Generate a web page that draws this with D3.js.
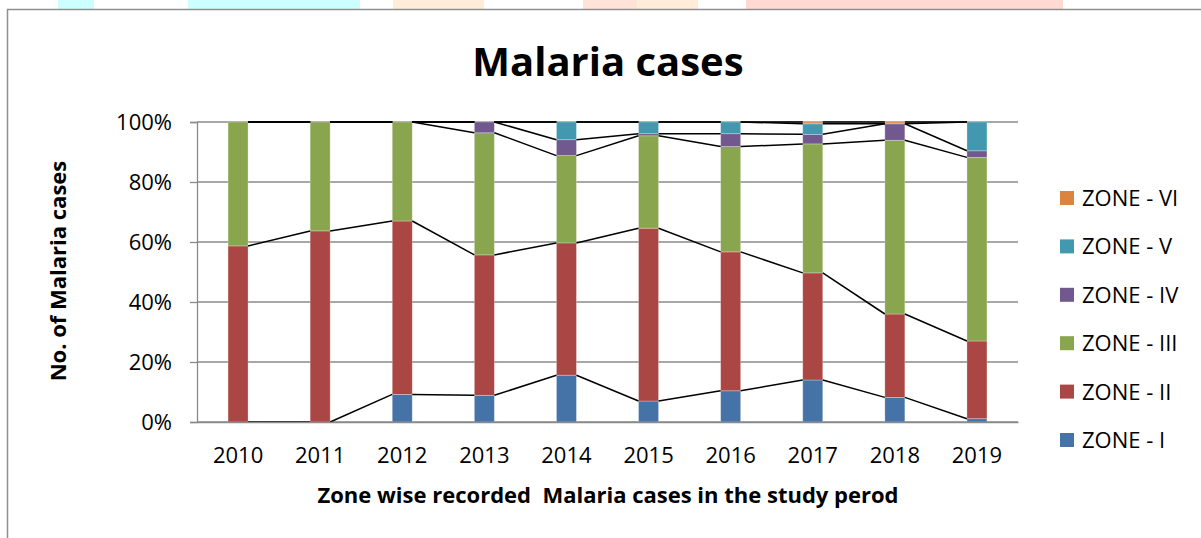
<!DOCTYPE html>
<html>
<head>
<meta charset="utf-8">
<script src="https://cdn.jsdelivr.net/npm/d3@7"></script>
<style>
  body { margin: 0; background: #fff; }
  text { font-family: "Open Sans", "Noto Sans", sans-serif; fill: #000; }
</style>
</head>
<body>
<script>
// 100% stacked columns, zone wise malaria cases

var years = ['2010','2011','2012','2013','2014','2015','2016','2017','2018','2019'];
var zones = ['ZONE - I','ZONE - II','ZONE - III','ZONE - IV','ZONE - V','ZONE - VI'];
var zoneI   = [0, 0, 9.2, 8.9, 15.6, 7.0, 10.4, 14.0, 8.2, 1.1];
var zoneII  = [58.7, 63.7, 57.8, 46.8, 44.1, 57.6, 46.3, 35.7, 27.8, 25.9];
var zoneIII = [41.3, 36.3, 33.0, 40.7, 29.1, 30.8, 35.1, 43.0, 57.9, 61.2];
var zoneIV  = [0, 0, 0, 3.6, 5.3, 0.7, 4.3, 3.2, 5.5, 2.2];
var zoneV   = [0, 0, 0, 0, 5.9, 3.9, 3.9, 3.5, 0, 9.6];
var zoneVI  = [0, 0, 0, 0, 0, 0, 0, 0.6, 0.6, 0];
var yTicks = [0, 0.2, 0.4, 0.6, 0.8, 1];
var colors = ['#4572A7','#AA4643','#89A54E','#71588F','#4198AF','#DB843D'];

var width = 1201, height = 538;
var plot = {left: 197, right: 1018, top: 122, bottom: 422};
var barWidth = 20;

var svg = d3.select('body').append('svg')
  .attr('width', width)
  .attr('height', height);

// faint strips of the page behind the chart
var strips = [[58,94,'#ccffff'],[188,360,'#ccffff'],[393,484,'#ffecd9'],[583,637,'#ffe3d8'],[637,698,'#ffecd9'],[746,1063,'#ffd9d2']];
svg.selectAll('rect.strip').data(strips).enter().append('rect')
  .attr('x', function(d){ return d[0]; })
  .attr('y', 0)
  .attr('width', function(d){ return d[1]-d[0]; })
  .attr('height', 9)
  .attr('fill', function(d){ return d[2]; });

// chart frame
svg.append('rect')
  .attr('x', 7.5).attr('y', 9.5)
  .attr('width', 1300).attr('height', 600)
  .attr('fill', '#fff')
  .attr('stroke', '#8f8f8f').attr('stroke-width', 1.5);

var table = years.map(function(y, i){
  return {year: y, 'ZONE - I': zoneI[i], 'ZONE - II': zoneII[i], 'ZONE - III': zoneIII[i],
          'ZONE - IV': zoneIV[i], 'ZONE - V': zoneV[i], 'ZONE - VI': zoneVI[i]};
});
var series = d3.stack().keys(zones).offset(d3.stackOffsetExpand)(table);

var xScale = d3.scaleBand().domain(years).range([plot.left, plot.right]);
var yScale = d3.scaleLinear().domain([0, 1]).range([plot.bottom, plot.top]);
var colorScale = d3.scaleOrdinal().domain(zones).range(colors);

// gridlines
svg.append('g')
  .selectAll('line').data(yTicks).enter().append('line')
  .attr('x1', plot.left).attr('x2', plot.right)
  .attr('y1', function(d){ return yScale(d); })
  .attr('y2', function(d){ return yScale(d); })
  .attr('stroke', '#8a8a8a').attr('stroke-width', 1.3);

// bars
svg.append('g').selectAll('g').data(series).enter().append('g')
  .attr('fill', function(d){ return colorScale(d.key); })
  .selectAll('rect').data(function(d){ return d; }).enter().append('rect')
  .attr('x', function(d){ return xScale(d.data.year) + xScale.bandwidth()/2 - barWidth/2; })
  .attr('y', function(d){ return yScale(d[1]); })
  .attr('width', barWidth)
  .attr('height', function(d){ return yScale(d[0]) - yScale(d[1]); })
  .attr('stroke', 'rgba(255,255,255,0.35)').attr('stroke-width', 0.8);

// series lines between neighbouring columns
var segs = [];
series.forEach(function(s){
  for (var i = 0; i < s.length - 1; i++) {
    segs.push({
      x1: xScale(years[i]) + xScale.bandwidth()/2 + barWidth/2, y1: yScale(s[i][1]),
      x2: xScale(years[i+1]) + xScale.bandwidth()/2 - barWidth/2, y2: yScale(s[i+1][1])
    });
  }
});
svg.append('g').selectAll('line').data(segs).enter().append('line')
  .attr('x1', function(d){ return d.x1; }).attr('y1', function(d){ return d.y1; })
  .attr('x2', function(d){ return d.x2; }).attr('y2', function(d){ return d.y2; })
  .attr('stroke', '#000').attr('stroke-width', 1.5);

// axes
var yAxis = svg.append('g')
  .attr('transform', 'translate(' + plot.left + ',0)')
  .call(d3.axisLeft(yScale).tickValues(yTicks).tickFormat(d3.format('.0%')).tickSize(7).tickPadding(18));
yAxis.select('.domain').attr('stroke', '#8a8a8a').attr('stroke-width', 1.3);
yAxis.selectAll('.tick line').attr('stroke', '#8a8a8a').attr('stroke-width', 1.3);
yAxis.selectAll('.tick text').style('font-size', '22px').attr('fill', '#000');

var xAxis = svg.append('g')
  .attr('transform', 'translate(0,' + plot.bottom + ')')
  .call(d3.axisBottom(xScale).tickSize(0).tickPadding(25));
xAxis.select('.domain').attr('stroke', '#8a8a8a').attr('stroke-width', 1.3);
xAxis.selectAll('.tick text').style('font-size', '22px').attr('fill', '#000');

// titles
svg.append('text')
  .attr('x', 608).attr('y', 76)
  .attr('text-anchor', 'middle')
  .style('font-size', '40px').style('font-weight', 'bold')
  .text('Malaria cases');

svg.append('text')
  .attr('x', 608).attr('y', 503)
  .attr('text-anchor', 'middle')
  .style('font-size', '22px').style('font-weight', 'bold')
  .style('white-space', 'pre')
  .text('Zone wise recorded  Malaria cases in the study perod');

svg.append('text')
  .attr('transform', 'translate(66,271) rotate(-90)')
  .attr('text-anchor', 'middle')
  .style('font-size', '22px').style('font-weight', 'bold')
  .text('No. of Malaria cases');

// legend, top entry is the last zone
var legend = svg.append('g').selectAll('g').data(zones.slice().reverse()).enter().append('g')
  .attr('transform', function(d, i){ return 'translate(1060,' + (191 + i * 48.4) + ')'; });
legend.append('rect')
  .attr('width', 14).attr('height', 14)
  .attr('fill', function(d){ return colorScale(d); });
legend.append('text')
  .attr('x', 22).attr('y', 15)
  .style('font-size', '22px')
  .text(function(d){ return d; });
</script>
</body>
</html>
